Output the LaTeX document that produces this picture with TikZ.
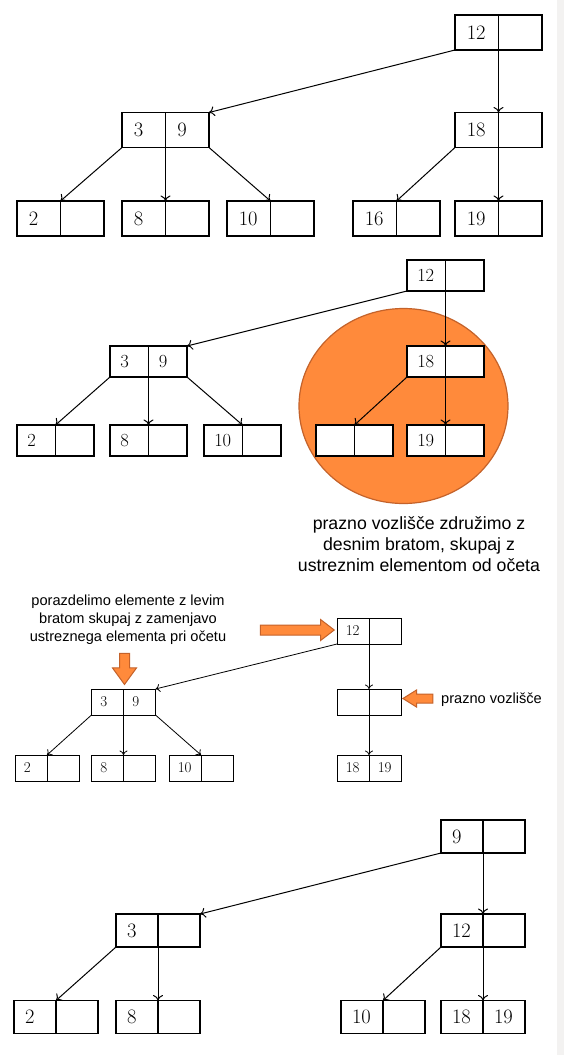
\documentclass[tikz,border=0pt]{standalone}
\usepackage{fontspec}
\usetikzlibrary{arrows.meta,positioning,shapes.arrows}
\newfontfamily\notefont{Liberation Sans}
\definecolor{blobfill}{HTML}{FF8A3B}
\definecolor{blobline}{HTML}{C4622A}
\definecolor{edgegray}{HTML}{F3F2F1}
\tikzset{cell/.style={draw,fill=white,inner sep=0pt,outer sep=0pt,align=left},
ptr/.style={-{To[length=5.5pt,width=10pt]},line width=1pt},
note/.style={font=\notefont,align=center,inner sep=0pt},
flag/.style={single arrow,fill=blobfill,draw=blobline,line width=1pt,inner sep=4.5pt,single arrow head extend=5.5pt,single arrow tip angle=75}}

\begin{document}
\begin{tikzpicture}[x=1pt,y=-1pt]
\fill[white] (0,0) rectangle (564,1055);
\fill[edgegray] (557,0) rectangle (564,1055);
\useasboundingbox (0,0) rectangle (564,1055);

% 1
\begin{scope}[cell/.append style={minimum width=43.5pt,minimum height=35pt,text width=20pt,font=\fontsize{20.5}{24}\selectfont,line width=1.1pt}]
\node[cell] (aR) at (476.75,32.5) {12};   \node[cell,right=0pt of aR] (aRx) {};
\node[cell] (aL) at (143.75,130) {3};     \node[cell,right=0pt of aL] (aLx) {9};
\node[cell] (aM) at (476.75,130) {18};    \node[cell,right=0pt of aM] (aMx) {};
\node[cell] (a2) at (38.75,218.5) {2};    \node[cell,right=0pt of a2] (a2x) {};
\node[cell] (a8) at (143.75,218.5) {8};   \node[cell,right=0pt of a8] (a8x) {};
\node[cell] (a10) at (248.75,218.5) {10}; \node[cell,right=0pt of a10] (a10x) {};
\node[cell] (a16) at (374.75,218.5) {16}; \node[cell,right=0pt of a16] (a16x) {};
\node[cell] (a19) at (476.75,218.5) {19}; \node[cell,right=0pt of a19] (a19x) {};
\end{scope}
\draw[ptr] (aR.south west) -- (aLx.north east);
\draw[ptr] (aR.south east) -- (aM.north east);
\draw[ptr] (aL.south west) -- (a2.north east);
\draw[ptr] (aL.south east) -- (a8.north east);
\draw[ptr] (aLx.south east) -- (a10.north east);
\draw[ptr] (aM.south west) -- (a16.north east);
\draw[ptr] (aM.south east) -- (a19.north east);

% 2
\fill[blobfill,draw=blobline,line width=1.2pt] (403.5,406) ellipse [x radius=104.5,y radius=97.5];
\begin{scope}[cell/.append style={minimum width=38.5pt,minimum height=31pt,text width=18pt,font=\fontsize{18.5}{22}\selectfont,line width=1.1pt}]
\node[cell] (bR) at (426.25,275.5) {12};  \node[cell,right=0pt of bR] (bRx) {};
\node[cell] (bL) at (129.25,361.5) {3};   \node[cell,right=0pt of bL] (bLx) {9};
\node[cell] (bM) at (426.25,361.5) {18};  \node[cell,right=0pt of bM] (bMx) {};
\node[cell] (b2) at (36.25,440.5) {2};    \node[cell,right=0pt of b2] (b2x) {};
\node[cell] (b8) at (129.25,440.5) {8};   \node[cell,right=0pt of b8] (b8x) {};
\node[cell] (b10) at (223.25,440.5) {10}; \node[cell,right=0pt of b10] (b10x) {};
\node[cell] (bE) at (335.25,440.5) {};    \node[cell,right=0pt of bE] (bEx) {};
\node[cell] (b19) at (426.25,440.5) {19}; \node[cell,right=0pt of b19] (b19x) {};
\end{scope}
\draw[ptr] (bR.south west) -- (bLx.north east);
\draw[ptr] (bR.south east) -- (bM.north east);
\draw[ptr] (bL.south west) -- (b2.north east);
\draw[ptr] (bL.south east) -- (b8.north east);
\draw[ptr] (bLx.south east) -- (b10.north east);
\draw[ptr] (bM.south west) -- (bE.north east);
\draw[ptr] (bM.south east) -- (b19.north east);
\node[note,font=\notefont\fontsize{17.7}{21}\selectfont] (bNote) at (419,544) {prazno vozlišče združimo z\\desnim bratom, skupaj z\\ustreznim elementom od očeta};

% 3
\begin{scope}[cell/.append style={minimum width=32pt,minimum height=26pt,text width=14.5pt,font=\fontsize{15}{17}\selectfont,line width=0.9pt},ptr/.append style={line width=0.8pt,-{To[length=4.5pt,width=8pt]}}]
\node[cell] (cR) at (353,631) {12};       \node[cell,right=0pt of cR] (cRx) {};
\node[cell] (cL) at (107.5,702) {3};      \node[cell,right=0pt of cL] (cLx) {9};
\node[cell] (cM) at (353,702) {};         \node[cell,right=0pt of cM] (cMx) {};
\node[cell] (c2) at (31,768) {2};         \node[cell,right=0pt of c2] (c2x) {};
\node[cell] (c8) at (107.5,768) {8};      \node[cell,right=0pt of c8] (c8x) {};
\node[cell] (c10) at (185,768) {10};      \node[cell,right=0pt of c10] (c10x) {};
\node[cell] (c18) at (353,768) {18};      \node[cell,right=0pt of c18] (c18x) {19};
\draw[ptr] (cR.south west) -- (cLx.north east);
\draw[ptr] (cR.south east) -- (cM.north east);
\draw[ptr] (cL.south west) -- (c2.north east);
\draw[ptr] (cL.south east) -- (c8.north east);
\draw[ptr] (cLx.south east) -- (c10.north east);
\draw[ptr] (cM.south east) -- (c18.north east);
\end{scope}
\node[note,font=\notefont\fontsize{14.6}{18}\selectfont] (cNote) at (128,620) {porazdelimo elemente z levim\\bratom skupaj z zamenjavo\\ustreznega elementa pri očetu};
\node[note,font=\notefont\fontsize{14.6}{18}\selectfont,anchor=west] (cEmpty) at (441,700) {prazno vozlišče};
\node[flag,minimum height=74pt] (cFlagR) at (294,630) {};
\node[flag,minimum height=31pt,shape border rotate=270,single arrow head extend=7pt,single arrow tip angle=72] (cFlagD) at (124.5,665.5) {};
\node[flag,minimum height=30pt,shape border rotate=180,inner sep=4pt,single arrow head extend=4pt,single arrow tip angle=64] (cFlagL) at (421.5,698.5) {};

% 4
\begin{scope}[cell/.append style={minimum width=42pt,minimum height=33pt,text width=20pt,font=\fontsize{20.5}{24}\selectfont,line width=1.1pt}]
\node[cell] (dR) at (462,836.5) {9};      \node[cell,right=0pt of dR] (dRx) {};
\node[cell] (dL) at (137,930.5) {3};      \node[cell,right=0pt of dL] (dLx) {};
\node[cell] (dM) at (462,930.5) {12};     \node[cell,right=0pt of dM] (dMx) {};
\node[cell] (d2) at (35,1017) {2};        \node[cell,right=0pt of d2] (d2x) {};
\node[cell] (d8) at (137,1017) {8};       \node[cell,right=0pt of d8] (d8x) {};
\node[cell] (d10) at (362,1017) {10};     \node[cell,right=0pt of d10] (d10x) {};
\node[cell] (d18) at (462,1017) {18};     \node[cell,right=0pt of d18] (d18x) {19};
\end{scope}
\draw[ptr] (dR.south west) -- (dLx.north east);
\draw[ptr] (dR.south east) -- (dM.north east);
\draw[ptr] (dL.south west) -- (d2.north east);
\draw[ptr] (dL.south east) -- (d8.north east);
\draw[ptr] (dM.south west) -- (d10.north east);
\draw[ptr] (dM.south east) -- (d18.north east);
\end{tikzpicture}
\end{document}
